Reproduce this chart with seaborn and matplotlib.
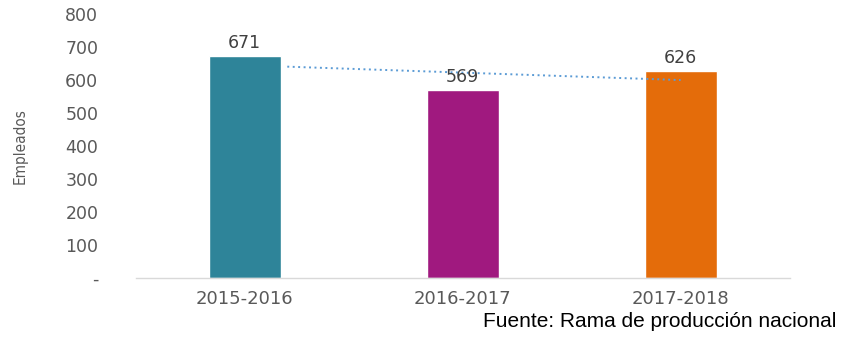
import matplotlib
matplotlib.use("Agg")
import matplotlib.pyplot as plt
import seaborn as sns
import numpy as np
import pandas as pd

periodos = ["2015-2016", "2016-2017", "2017-2018"]
empleados = [671, 569, 626]
colores = ["#2E8499", "#A0197F", "#E46C0A"]
y_ticks = [0, 100, 200, 300, 400, 500, 600, 700, 800]
y_tick_labels = ["-", "100", "200", "300", "400", "500", "600", "700", "800"]
fuente = "Fuente: Rama de producción nacional"

sns.set_theme(style="white")
plt.rcParams["font.family"] = ["DejaVu Sans"]

df = pd.DataFrame({"periodo": periodos, "empleados": empleados})

fig = plt.figure(figsize=(8.49, 3.47), dpi=100)
ax = fig.add_axes([0.160, 0.199, 0.770, 0.761])

bar_width = 0.33
sns.barplot(data=df, x="periodo", y="empleados", hue="periodo",
            palette=colores, width=bar_width, legend=False, ax=ax,
            saturation=1, zorder=2)

# linear trend across the three periods (dotted)
xs = np.arange(len(empleados))
pendiente, intercepto = np.polyfit(xs, empleados, 1)
x_tr = np.array([xs[0] + bar_width / 2 + 0.03, xs[-1]])
ax.plot(x_tr, intercepto + pendiente * x_tr, linestyle=(0, (1.0, 1.8)),
        color="#5B9BD5", linewidth=1.4, zorder=3)

# value labels above bars
for i, v in enumerate(empleados):
    ax.text(i, v + 12, f"{v}", ha="center", va="bottom",
            fontsize=12.5, color="#404040", zorder=4)

ax.set_ylim(0, 800)
ax.set_xlim(-0.5, 2.5)
ax.set_yticks(y_ticks)
ax.set_yticklabels(y_tick_labels)
ax.tick_params(axis="y", length=0, pad=27, labelsize=12.5, labelcolor="#595959")
ax.tick_params(axis="x", length=0, pad=9, labelsize=13, labelcolor="#595959")
ax.set_xlabel("")
ax.set_ylabel("Empleados", fontsize=11, fontstretch="condensed",
              color="#595959", labelpad=27)

for s in ["top", "right", "left"]:
    ax.spines[s].set_visible(False)
ax.spines["bottom"].set_color("#D9D9D9")
ax.spines["bottom"].set_linewidth(1.0)
ax.grid(False)

fig.text(0.985, 0.058, fuente, ha="right", va="baseline", fontsize=15,
         family="Liberation Sans", color="#000000")

fig.savefig("out.png", dpi=100)
